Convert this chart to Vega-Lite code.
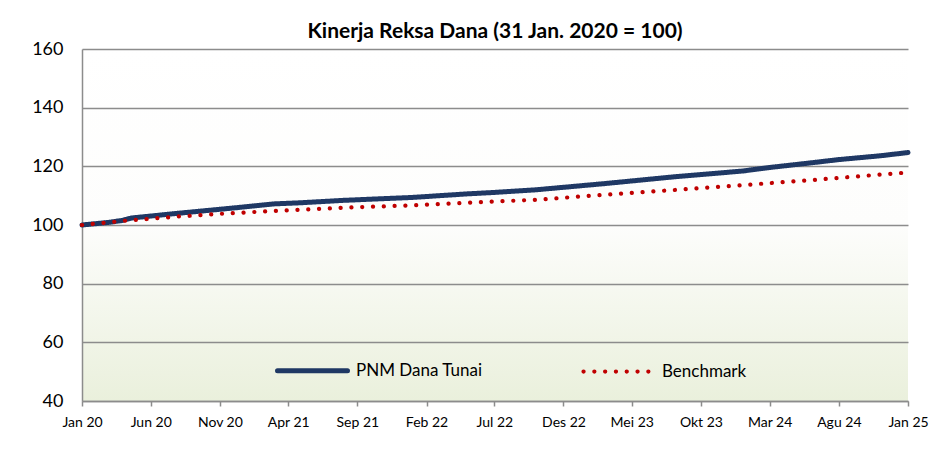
{
  "$schema": "https://vega.github.io/schema/vega-lite/v6.json",
  "width": 826,
  "height": 352,
  "autosize": {"type": "none"},
  "padding": {"left": 82, "top": 49, "right": 37, "bottom": 51},
  "background": "white",
  "title": {
    "text": "Kinerja Reksa Dana (31 Jan. 2020 = 100)",
    "font": "Lato",
    "fontSize": 21,
    "fontWeight": "bold",
    "color": "#000000",
    "anchor": "middle",
    "offset": -2
  },
  "view": {
    "stroke": null,
    "fill": {
      "gradient": "linear",
      "x1": 0, "y1": 0, "x2": 0, "y2": 1,
      "stops": [
        {"offset": 0, "color": "#ffffff"},
        {"offset": 0.5, "color": "#fdfdfc"},
        {"offset": 1, "color": "#eaf0dc"}
      ]
    }
  },
  "data": {
    "values": [
      {"date": "2020-01-01", "series": "PNM Dana Tunai", "value": 100.0},
      {"date": "2020-03-01", "series": "PNM Dana Tunai", "value": 100.9},
      {"date": "2020-04-01", "series": "PNM Dana Tunai", "value": 101.6},
      {"date": "2020-04-20", "series": "PNM Dana Tunai", "value": 102.4},
      {"date": "2020-08-01", "series": "PNM Dana Tunai", "value": 104.0},
      {"date": "2020-12-01", "series": "PNM Dana Tunai", "value": 105.8},
      {"date": "2021-03-01", "series": "PNM Dana Tunai", "value": 107.2},
      {"date": "2021-05-01", "series": "PNM Dana Tunai", "value": 107.6},
      {"date": "2021-08-01", "series": "PNM Dana Tunai", "value": 108.4},
      {"date": "2022-01-01", "series": "PNM Dana Tunai", "value": 109.4},
      {"date": "2022-05-01", "series": "PNM Dana Tunai", "value": 110.6},
      {"date": "2022-07-01", "series": "PNM Dana Tunai", "value": 111.1},
      {"date": "2022-10-01", "series": "PNM Dana Tunai", "value": 112.0},
      {"date": "2023-03-01", "series": "PNM Dana Tunai", "value": 114.1},
      {"date": "2023-08-01", "series": "PNM Dana Tunai", "value": 116.4},
      {"date": "2024-01-01", "series": "PNM Dana Tunai", "value": 118.4},
      {"date": "2024-03-01", "series": "PNM Dana Tunai", "value": 119.6},
      {"date": "2024-06-01", "series": "PNM Dana Tunai", "value": 121.2},
      {"date": "2024-08-01", "series": "PNM Dana Tunai", "value": 122.3},
      {"date": "2024-11-01", "series": "PNM Dana Tunai", "value": 123.6},
      {"date": "2025-01-01", "series": "PNM Dana Tunai", "value": 124.7},
      {"date": "2020-01-01", "series": "Benchmark", "value": 100.0},
      {"date": "2020-04-01", "series": "Benchmark", "value": 101.4},
      {"date": "2020-08-01", "series": "Benchmark", "value": 102.9},
      {"date": "2020-11-01", "series": "Benchmark", "value": 103.8},
      {"date": "2021-03-01", "series": "Benchmark", "value": 104.8},
      {"date": "2021-08-01", "series": "Benchmark", "value": 105.9},
      {"date": "2022-01-01", "series": "Benchmark", "value": 106.7},
      {"date": "2022-05-01", "series": "Benchmark", "value": 107.6},
      {"date": "2022-10-01", "series": "Benchmark", "value": 108.6},
      {"date": "2023-03-01", "series": "Benchmark", "value": 110.3},
      {"date": "2023-08-01", "series": "Benchmark", "value": 111.9},
      {"date": "2024-01-01", "series": "Benchmark", "value": 113.6},
      {"date": "2024-06-01", "series": "Benchmark", "value": 115.3},
      {"date": "2024-11-01", "series": "Benchmark", "value": 117.2},
      {"date": "2025-01-01", "series": "Benchmark", "value": 117.9}
    ]
  },
  "mark": {"type": "line", "strokeCap": "round", "strokeJoin": "round", "clip": false},
  "encoding": {
    "x": {
      "field": "date",
      "type": "temporal",
      "scale": {
        "type": "utc",
        "domain": [{"year": 2020, "month": 1, "date": 1, "utc": true}, {"year": 2025, "month": 1, "date": 1, "utc": true}],
        "nice": false
      },
      "axis": {
        "title": null,
        "grid": false,
        "values": [
          {"year": 2020, "month": 1, "date": 1, "utc": true},
          {"year": 2020, "month": 6, "date": 1, "utc": true},
          {"year": 2020, "month": 11, "date": 1, "utc": true},
          {"year": 2021, "month": 4, "date": 1, "utc": true},
          {"year": 2021, "month": 9, "date": 1, "utc": true},
          {"year": 2022, "month": 2, "date": 1, "utc": true},
          {"year": 2022, "month": 7, "date": 1, "utc": true},
          {"year": 2022, "month": 12, "date": 1, "utc": true},
          {"year": 2023, "month": 5, "date": 1, "utc": true},
          {"year": 2023, "month": 10, "date": 1, "utc": true},
          {"year": 2024, "month": 3, "date": 1, "utc": true},
          {"year": 2024, "month": 8, "date": 1, "utc": true},
          {"year": 2025, "month": 1, "date": 1, "utc": true}
        ],
        "labelExpr": "['Jan','Feb','Mar','Apr','Mei','Jun','Jul','Agu','Sep','Okt','Nov','Des'][utcmonth(datum.value)] + ' ' + utcFormat(datum.value, '%y')",
        "labelFont": "Lato",
        "labelFontSize": 14,
        "labelColor": "#000000",
        "labelPadding": 9,
        "labelFlush": false,
        "labelOverlap": false,
        "tickSize": 5,
        "tickColor": "#8c8c8c",
        "tickWidth": 1.5,
        "domainColor": "#8c8c8c",
        "domainWidth": 1.5
      }
    },
    "y": {
      "field": "value",
      "type": "quantitative",
      "scale": {"domain": [40, 160], "nice": false, "zero": false},
      "axis": {
        "title": null,
        "values": [40, 60, 80, 100, 120, 140, 160],
        "labelFont": "Lato",
        "labelFontSize": 18,
        "labelColor": "#000000",
        "labelPadding": 19,
        "ticks": false,
        "tickSize": 0,
        "gridColor": "#8c8c8c",
        "gridWidth": 1.5,
        "domainColor": "#8c8c8c",
        "domainWidth": 1.5
      }
    },
    "color": {
      "field": "series",
      "type": "nominal",
      "scale": {"domain": ["PNM Dana Tunai", "Benchmark"], "range": ["#1f3864", "#c00000"]},
      "legend": {
        "title": null,
        "orient": "none",
        "direction": "horizontal",
        "legendX": 193,
        "legendY": 284,
        "symbolType": "stroke",
        "symbolSize": 4900,
        "labelFont": "Lato",
        "labelFontSize": 17,
        "labelColor": "#000000",
        "labelOffset": 6,
        "columnPadding": 92,
        "encode": {"symbols": {"update": {"strokeCap": {"value": "round"}}}}
      }
    },
    "strokeDash": {
      "field": "series",
      "type": "nominal",
      "scale": {"domain": ["PNM Dana Tunai", "Benchmark"], "range": [[1, 0], [0.1, 10.7]]}
    },
    "strokeWidth": {
      "field": "series",
      "type": "nominal",
      "scale": {"domain": ["PNM Dana Tunai", "Benchmark"], "range": [5, 4.2]}
    }
  }
}
